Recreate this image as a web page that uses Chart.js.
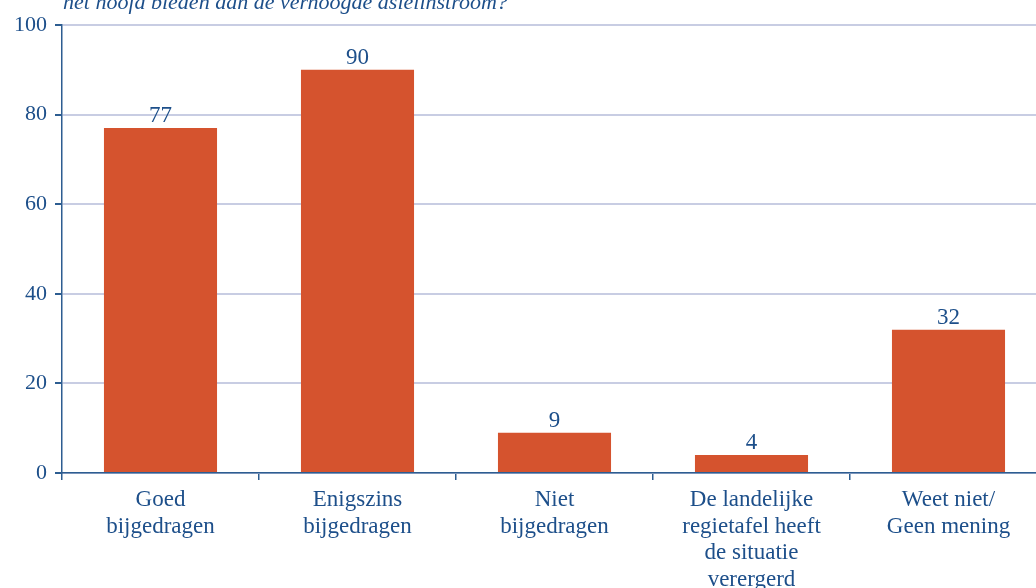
<!DOCTYPE html>
<html><head><meta charset="utf-8">
<script src="https://cdn.jsdelivr.net/npm/chart.js@4.4.1/dist/chart.umd.min.js"></script>
<style>
html,body{margin:0;padding:0;overflow:hidden;background:#fff;}
#wrap{position:relative;width:1050px;height:588px;}
</style></head><body>
<div id="wrap"><canvas id="c"></canvas></div>
<script>
const categories = [["Goed","bijgedragen"],["Enigszins","bijgedragen"],["Niet","bijgedragen"],["De landelijke","regietafel heeft","de situatie","verergerd"],["Weet niet/","Geen mening"]];
const values = [77, 90, 9, 4, 32];
const yTicks = [0, 20, 40, 60, 80, 100];
const titleText = "het hoofd bieden dan de verhoogde asielinstroom?";

const BLUE = '#1d4f8a';
const AXIS = '#2d5d91';
const GRID = '#c8cde3';
const BAR = '#d5532e';
const FONT = "'Liberation Serif', serif";

const labelPlugin = {
  id:'vals',
  afterDatasetsDraw(chart){
    const ctx = chart.ctx;
    const meta = chart.getDatasetMeta(0);
    ctx.save();
    ctx.fillStyle = BLUE;
    ctx.font = "23px " + FONT;
    ctx.textAlign = 'center';
    ctx.textBaseline = 'alphabetic';
    meta.data.forEach((el,i)=>{
      ctx.fillText(String(values[i]), el.x, el.y - 6);
    });
    ctx.restore();
  }
};
const titlePlugin = {
  id:'ttl',
  afterDraw(chart){
    const ctx = chart.ctx;
    ctx.save();
    ctx.fillStyle = BLUE;
    ctx.font = "italic 22px " + FONT;
    ctx.textAlign = 'left';
    ctx.textBaseline = 'alphabetic';
    ctx.fillText(titleText, chart.chartArea.left + 1, 9);
    ctx.restore();
  }
};

new Chart(document.getElementById('c'), {
  type:'bar',
  data:{labels:categories, datasets:[{data:values, backgroundColor:BAR, barPercentage:0.574, categoryPercentage:1}]},
  options:{
    responsive:true, maintainAspectRatio:false, animation:false,
    layout:{padding:{top:25,right:3,left:0,bottom:0}},
    plugins:{legend:{display:false}, tooltip:{enabled:false}},
    scales:{
      x:{
        grid:{drawOnChartArea:false, drawTicks:true, tickLength:7, offset:true, color:AXIS, lineWidth:1.5},
        border:{display:true, color:AXIS, width:1.5},
        ticks:{color:BLUE, font:{family:FONT, size:23, lineHeight:1.15}, padding:7, maxRotation:0, autoSkip:false},
        afterFit(s){ s.height = 115; }
      },
      y:{
        min:0, max:100,
        afterBuildTicks(s){ s.ticks = yTicks.map(v=>({value:v})); },
        grid:{color:GRID, lineWidth:2, tickColor:AXIS, tickLength:7, drawTicks:true},
        border:{display:true, color:AXIS, width:1.5},
        ticks:{color:BLUE, font:{family:FONT, size:22}, padding:8},
        afterFit(s){ s.width = 62; }
      }
    }
  },
  plugins:[labelPlugin, titlePlugin]
});
</script>
</body></html>
